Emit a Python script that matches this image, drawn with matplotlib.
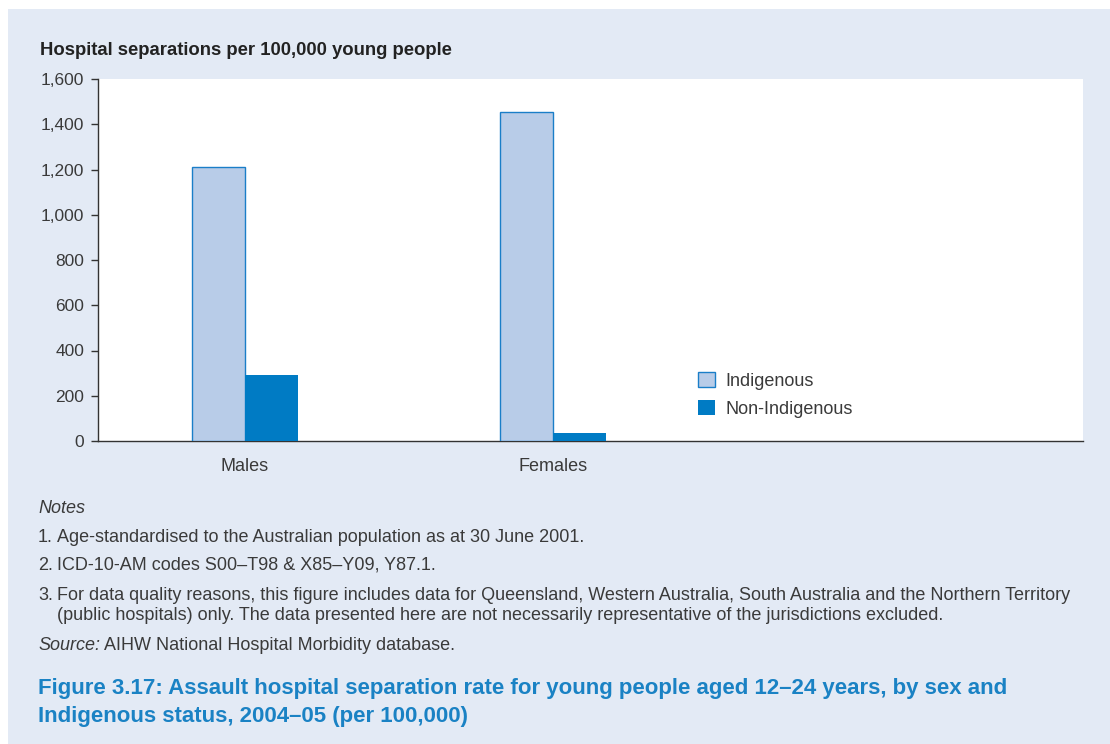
import matplotlib
matplotlib.use("Agg")
import matplotlib.pyplot as plt
from matplotlib.patches import Rectangle
from matplotlib.ticker import FuncFormatter
import numpy as np

categories = ["Males", "Females"]
indigenous = [1210, 1455]
non_indigenous = [290, 37]
series_names = ["Indigenous", "Non-Indigenous"]
y_ticks = [0, 200, 400, 600, 800, 1000, 1200, 1400, 1600]

plt.rcParams['font.family'] = ['Liberation Sans', 'DejaVu Sans']
TXT = "#3a3a3a"
BG = "#e3eaf5"

W, H = 1110, 744
fig = plt.figure(figsize=(W / 100, H / 100), dpi=100)
fig.patch.set_facecolor("white")
fig.patches.append(Rectangle((8 / W, 0), 1 - 8 / W, (H - 9) / H, transform=fig.transFigure,
                             facecolor=BG, edgecolor="none", zorder=-10))

ax = fig.add_axes([98 / W, (H - 441) / H, 985 / W, 362 / H])
ax.set_facecolor("white")

x = np.arange(len(categories))
bw = 0.172
ax.bar(x - bw / 2, indigenous, bw, color="#b8cce8", edgecolor="#1a7ec8", linewidth=1.0,
       label=series_names[0], zorder=3)
ax.bar(x + bw / 2, non_indigenous, bw, color="#007bc4", edgecolor="none",
       label=series_names[1], zorder=3)

ax.set_xlim(-0.477, 2.72)
ax.set_ylim(0, 1600)
ax.set_yticks(y_ticks)
ax.yaxis.set_major_formatter(FuncFormatter(lambda v, p: f"{int(v):,}"))
ax.set_xticks(x)
ax.set_xticklabels(categories)
for s in ["top", "right"]:
    ax.spines[s].set_visible(False)
for s in ["left", "bottom"]:
    ax.spines[s].set_color("#333333")
    ax.spines[s].set_linewidth(1.0)
ax.tick_params(axis="y", length=5, width=1, color="#333333", labelsize=12.5, labelcolor=TXT, pad=5)
ax.tick_params(axis="x", length=0, labelsize=13, labelcolor=TXT, pad=12)

leg = ax.legend(loc="upper left", bbox_to_anchor=((698 - 98) / 985, (441 - 372) / 362),
                frameon=False, fontsize=13, handlelength=0.92, handleheight=0.92,
                handletextpad=0.6, labelspacing=0.55, borderpad=0, borderaxespad=0)
for t in leg.get_texts():
    t.set_color(TXT)

def fy(py):
    return 1 - py / H

fig.text(40 / W, fy(55), "Hospital separations per 100,000 young people", fontsize=13.3,
         fontweight="bold", color="#222222", va="baseline", ha="left")

FS = 13
fig.text(38 / W, fy(513), "Notes", fontsize=FS, style="italic", color=TXT, va="baseline")
notes = [
    (542, "1.", "Age-standardised to the Australian population as at 30 June 2001."),
    (570, "2.", "ICD-10-AM codes S00–T98 & X85–Y09, Y87.1."),
    (600, "3.", "For data quality reasons, this figure includes data for Queensland, Western Australia, South Australia and the Northern Territory"),
    (620, "", "(public hospitals) only. The data presented here are not necessarily representative of the jurisdictions excluded."),
]
for py, num, txt in notes:
    if num:
        fig.text(38 / W, fy(py), num, fontsize=FS, color=TXT, va="baseline")
    fig.text(57 / W, fy(py), txt, fontsize=FS, color=TXT, va="baseline")

src_rest = fig.text(38 / W, fy(650), "AIHW National Hospital Morbidity database.", fontsize=FS,
                    color=TXT, va="baseline")
src = fig.text(38 / W, fy(650), "Source:", fontsize=FS, style="italic", color=TXT, va="baseline")
fig.canvas.draw()
bb = src.get_window_extent()
src_rest.set_x((bb.x1 + 4) / W)

fig.text(38 / W, fy(694), "Figure 3.17: Assault hospital separation rate for young people aged 12–24 years, by sex and",
         fontsize=16, fontweight="bold", color="#1a82c4", va="baseline")
fig.text(38 / W, fy(722), "Indigenous status, 2004–05 (per 100,000)",
         fontsize=16, fontweight="bold", color="#1a82c4", va="baseline")

fig.savefig("out.png", dpi=100, facecolor=fig.get_facecolor())
